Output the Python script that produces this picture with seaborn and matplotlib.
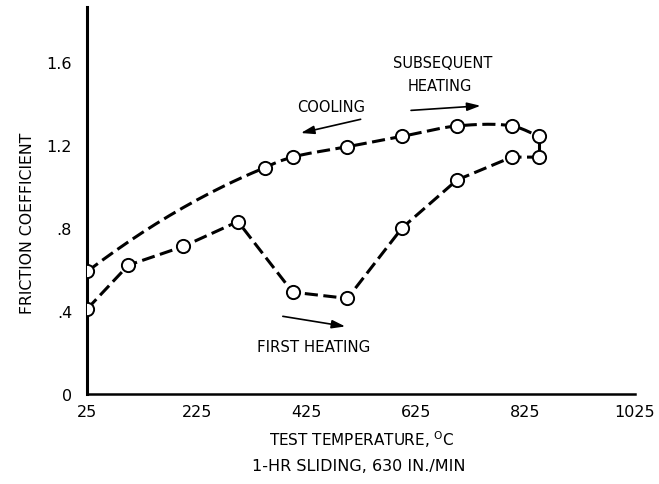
import numpy as np
import pandas as pd
import matplotlib
matplotlib.use("Agg")
import matplotlib.pyplot as plt
import seaborn as sns

# ---- data ----
first_temp = [25, 100, 200, 300, 400, 500, 600, 700, 800, 850]
first_mu = [0.41, 0.62, 0.71, 0.83, 0.49, 0.46, 0.80, 1.03, 1.14, 1.14]
later_temp = [25, 350, 400, 500, 600, 700, 800, 850]
later_mu = [0.59, 1.09, 1.14, 1.19, 1.24, 1.29, 1.29, 1.24]
x_ticks = [25, 225, 425, 625, 825, 1025]
y_ticks = [0, 0.4, 0.8, 1.2, 1.6]
y_ticklabels = ["0", ".4", ".8", "1.2", "1.6"]

sns.set_style("white")
plt.rcParams["font.family"] = ["DejaVu Sans"]
plt.rcParams["text.color"] = "black"
plt.rcParams["axes.labelcolor"] = "black"

W, H = 659, 485
fig = plt.figure(figsize=(W / 100, H / 100), dpi=100)
ax_l, ax_r, ax_b, ax_t = 87.3, 635, 395, 8.3
ax = fig.add_axes([ax_l / W, (H - ax_b) / H, (ax_r - ax_l) / W, (ax_b - ax_t) / H])
ax.set_xlim(25, 1025)
ax.set_ylim(0, 1.861)

lw = 2.2
dash = (4.3, 1.8)
mk = dict(marker="o", markersize=9.5, markerfacecolor="white",
          markeredgecolor="black", markeredgewidth=1.4)


def smooth(xs, ys, n=40):
    """Smooth drawing path through the data points: a parabola through the
    first three points for the first span, centripetal Catmull-Rom after."""
    xs = np.asarray(xs, float)
    ys = np.asarray(ys, float)
    cf = np.polyfit(xs[:3], ys[:3], 2)
    x0 = np.linspace(xs[0], xs[1], n)
    first = np.column_stack([x0, np.polyval(cf, x0)])
    sx, sy = 0.5475, 207.8
    P = np.column_stack([xs[1:] * sx, ys[1:] * sy])
    start_phantom = np.array([xs[0] * sx, ys[0] * sy])
    P = np.vstack([start_phantom, P, 2 * P[-1] - P[-2]])
    out = [first]
    for i in range(1, len(P) - 2):
        p0, p1, p2, p3 = P[i - 1], P[i], P[i + 1], P[i + 2]
        t0 = 0.0
        t1 = t0 + np.linalg.norm(p1 - p0) ** 0.5
        t2 = t1 + np.linalg.norm(p2 - p1) ** 0.5
        t3 = t2 + np.linalg.norm(p3 - p2) ** 0.5
        t = np.linspace(t1, t2, n)[:, None]
        a1 = (t1 - t) / (t1 - t0) * p0 + (t - t0) / (t1 - t0) * p1
        a2 = (t2 - t) / (t2 - t1) * p1 + (t - t1) / (t2 - t1) * p2
        a3 = (t3 - t) / (t3 - t2) * p2 + (t - t2) / (t3 - t2) * p3
        b1 = (t2 - t) / (t2 - t0) * a1 + (t - t0) / (t2 - t0) * a2
        b2 = (t3 - t) / (t3 - t1) * a2 + (t - t1) / (t3 - t1) * a3
        c = (t2 - t) / (t2 - t1) * b1 + (t - t1) / (t2 - t1) * b2
        c = np.column_stack([c[:, 0] / sx, c[:, 1] / sy])
        out.append(c[1:])
    C = np.vstack(out)
    return C[:, 0], C[:, 1]


# first heating (lower curve)
df1 = pd.DataFrame({"T": first_temp, "mu": first_mu})
sns.lineplot(data=df1, x="T", y="mu", ax=ax, color="black", lw=lw,
             sort=False, estimator=None)
ax.lines[-1].set_dashes(dash)

# cooling / subsequent heating (upper smooth curve)
cx, cy = smooth(later_temp, later_mu)
df2 = pd.DataFrame({"T": cx, "mu": cy})
sns.lineplot(data=df2, x="T", y="mu", ax=ax, color="black", lw=lw,
             sort=False, estimator=None)
ax.lines[-1].set_dashes(dash)

# link between the two curves at the top temperature
ax.plot([later_temp[-1], first_temp[-1]], [later_mu[-1], first_mu[-1]],
        color="black", lw=lw)

# markers
ax.plot(first_temp, first_mu, linestyle="none", zorder=5, **mk)
ax.plot(later_temp, later_mu, linestyle="none", zorder=5, **mk)

# axes styling
for s in ["top", "right"]:
    ax.spines[s].set_visible(False)
ax.spines["left"].set_linewidth(2.2)
ax.spines["bottom"].set_linewidth(1.8)
ax.spines["left"].set_color("black")
ax.spines["bottom"].set_color("black")
ax.set_xticks(x_ticks)
ax.set_yticks(y_ticks)
ax.set_yticklabels(y_ticklabels)
ax.tick_params(axis="y", direction="in", length=15, width=1.3, pad=11,
               labelsize=11.5, colors="black")
ax.tick_params(axis="x", direction="in", length=16, width=1.6, pad=7,
               labelsize=11.5, colors="black")
ax.set_xlabel("")
ax.set_ylabel("")

# annotations
fs = 10.5
ax.text(470, 1.383, "COOLING", ha="center", va="center", fontsize=fs)
ax.annotate("", xy=(410, 1.253), xytext=(529, 1.325),
            arrowprops=dict(arrowstyle="-|>,head_length=0.8,head_width=0.25",
                            color="black", lw=1.2))
ax.text(673, 1.595, "SUBSEQUENT", ha="center", va="center", fontsize=fs)
ax.text(669, 1.484, "HEATING", ha="center", va="center", fontsize=fs)
ax.annotate("", xy=(748, 1.388), xytext=(611, 1.364),
            arrowprops=dict(arrowstyle="-|>,head_length=0.8,head_width=0.25",
                            color="black", lw=1.2))
ax.text(439, 0.231, "FIRST HEATING", ha="center", va="center", fontsize=10.8)
ax.annotate("", xy=(501, 0.323), xytext=(377, 0.376),
            arrowprops=dict(arrowstyle="-|>,head_length=0.8,head_width=0.25",
                            color="black", lw=1.2))

# axis titles
fig.text(27 / W, 1 - 223 / H, "FRICTION COEFFICIENT", rotation=90,
         ha="center", va="center", fontsize=11.3)
fig.text(362 / W, 1 - 440 / H, "TEST TEMPERATURE, $^{\\mathrm{O}}$C",
         ha="center", va="center", fontsize=11)
fig.text(359 / W, 1 - 467 / H, "1-HR SLIDING, 630 IN./MIN",
         ha="center", va="center", fontsize=11.5)

fig.savefig("out.png", dpi=100)
